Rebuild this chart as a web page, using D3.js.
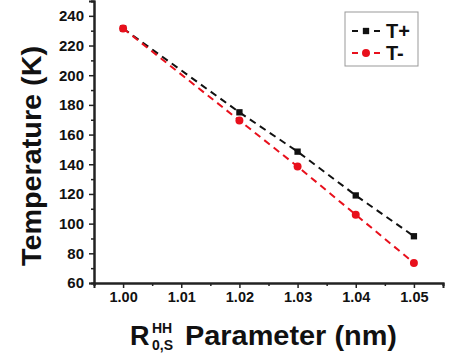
<!DOCTYPE html>
<html>
<head>
<meta charset="utf-8">
<script src="https://cdn.jsdelivr.net/npm/d3@7"></script>
<style>
  body { margin: 0; background: #fff; }
  text { font-family: "Liberation Sans", Arial, sans-serif; font-weight: bold; fill: #111; }
</style>
</head>
<body>
<script>
const width = 450
const height = 358

/* Data. */
const params = [1.00, 1.02, 1.03, 1.04, 1.05]
const tPlus = [231.5, 175, 148.5, 119, 91.5]
const tMinus = [231.5, 169.5, 138.5, 106, 73.5]
const xTicks = [1.00, 1.01, 1.02, 1.03, 1.04, 1.05]
const yTicks = [60, 80, 100, 120, 140, 160, 180, 200, 220, 240]
const series = [
  {name: "T+", values: tPlus, color: "#111", symbol: d3.symbolSquare},
  {name: "T-", values: tMinus, color: "#e8101c", symbol: d3.symbolCircle}
]

const svg = d3.select("body").append("svg")
  .attr("width", width)
  .attr("height", height)

const x = d3.scaleLinear().domain([0.995, 1.055]).range([94, 443])
const y = d3.scaleLinear().domain([60, 250]).range([283, 1])

/* Minor ticks first, then major axes. */
const xMinor = d3.range(0.995, 1.0551, 0.005).filter(v => Math.abs(Math.round(v * 100) - v * 100) > 0.1)
const yMinor = d3.range(70, 251, 20)

svg.append("g")
  .attr("transform", "translate(0,283)")
  .call(d3.axisBottom(x).tickValues(xMinor).tickSize(3).tickFormat(""))
svg.append("g")
  .attr("transform", "translate(94,0)")
  .call(d3.axisLeft(y).tickValues(yMinor).tickSize(3).tickFormat(""))

const xAxis = svg.append("g")
  .attr("transform", "translate(0,283)")
  .call(d3.axisBottom(x).tickValues(xTicks).tickSize(5).tickPadding(4).tickFormat(d3.format(".2f")))
xAxis.selectAll("text").style("font-size", "14.5px")

const yAxis = svg.append("g")
  .attr("transform", "translate(94,0)")
  .call(d3.axisLeft(y).tickValues(yTicks).tickSize(5).tickPadding(5))
yAxis.selectAll("text").style("font-size", "15px")

svg.selectAll(".domain").attr("stroke", "#222").attr("stroke-width", 2)
svg.selectAll(".tick line").attr("stroke", "#222").attr("stroke-width", 1.5)

/* Dashed lines with markers. */
const line = d3.line()
  .x((d, i) => x(params[i]))
  .y(d => y(d))

series.forEach(s => {
  svg.append("path")
    .attr("d", line(s.values))
    .attr("fill", "none")
    .attr("stroke", s.color)
    .attr("stroke-width", 2)
    .attr("stroke-dasharray", "7,5")
  svg.selectAll(null)
    .data(s.values)
    .enter()
    .append("path")
    .attr("transform", (d, i) => `translate(${x(params[i])},${y(d)})`)
    .attr("d", d3.symbol().type(s.symbol).size(s.symbol === d3.symbolCircle ? 50 : 40))
    .attr("fill", s.color)
})

/* Legend. */
const legend = svg.append("g")
legend.append("rect")
  .attr("x", 345).attr("y", 12)
  .attr("width", 73).attr("height", 54)
  .attr("fill", "#fff")
  .attr("stroke", "#999")
  .attr("stroke-width", 1)
series.forEach((s, i) => {
  const ly = 31 + i * 22
  legend.append("line")
    .attr("x1", 352).attr("x2", 380)
    .attr("y1", ly).attr("y2", ly)
    .attr("stroke", s.color)
    .attr("stroke-width", 2)
    .attr("stroke-dasharray", "6,5")
  legend.append("path")
    .attr("transform", `translate(366,${ly})`)
    .attr("d", d3.symbol().type(s.symbol).size(s.symbol === d3.symbolCircle ? 50 : 40))
    .attr("fill", s.color)
  legend.append("text")
    .attr("x", 386).attr("y", ly + 7)
    .style("font-size", "20px")
    .text(s.name)
})

/* Axis titles (stretched a little, as in the picture). */
svg.append("text")
  .attr("transform", "translate(41,156) rotate(-90)")
  .attr("text-anchor", "middle")
  .attr("textLength", 220)
  .attr("lengthAdjust", "spacingAndGlyphs")
  .style("font-size", "27px")
  .text("Temperature (K)")

svg.append("text")
  .attr("x", 130).attr("y", 345)
  .style("font-size", "27px")
  .text("R")
svg.append("text")
  .attr("x", 152).attr("y", 333)
  .style("font-size", "14px")
  .text("HH")
svg.append("text")
  .attr("x", 152).attr("y", 350)
  .style("font-size", "14px")
  .text("0,S")
svg.append("text")
  .attr("x", 185).attr("y", 345)
  .attr("textLength", 212)
  .attr("lengthAdjust", "spacingAndGlyphs")
  .style("font-size", "27px")
  .text("Parameter (nm)")
</script>
</body>
</html>
